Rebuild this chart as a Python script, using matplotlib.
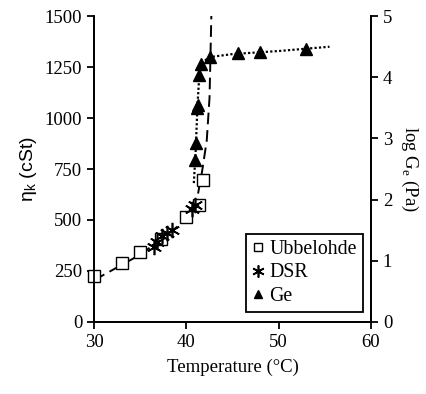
"""Kinematic viscosity and log Ge vs temperature (Ubbelohde, DSR, Ge)."""

import matplotlib as mpl
import matplotlib.pyplot as plt

mpl.rcParams.update(
    {
        "font.family": "Liberation Serif",
        "font.size": 13.5,
        "axes.linewidth": 1.3,
        "xtick.major.width": 1.3,
        "ytick.major.width": 1.3,
        "xtick.major.size": 5,
        "ytick.major.size": 5,
    }
)

# Ubbelohde viscosity (cSt)
ubb_t = [30.0, 33.0, 35.0, 37.2, 39.9, 41.4, 41.8]
ubb_v = [225, 288, 345, 405, 517, 575, 695]

# DSR viscosity (cSt)
dsr_t = [36.5, 36.8, 37.4, 37.9, 38.4, 40.6, 40.9]
dsr_v = [368, 392, 422, 438, 450, 556, 572]

# Ge, log scale (Pa)
ge_t = [40.9, 41.0, 41.1, 41.2, 41.4, 41.6, 42.6, 45.6, 48.0, 52.9]
ge_log = [2.65, 2.92, 3.50, 3.55, 4.04, 4.22, 4.33, 4.39, 4.41, 4.46]

# dashed viscosity trend
visc_fit_t = [30.0, 33.0, 35.0, 38.0, 40.0, 41.0, 41.3, 41.7, 42.2, 42.5, 42.6, 42.7]
visc_fit_v = [205, 280, 330, 430, 505, 560, 640, 740, 890, 1100, 1300, 1510]

# dotted Ge trend
ge_fit_t = [40.8, 41.0, 41.2, 41.4, 41.7, 42.5, 45.0, 50.0, 55.5]
ge_fit_log = [2.27, 2.8, 3.55, 4.05, 4.24, 4.33, 4.38, 4.43, 4.50]

fig = plt.figure(figsize=(4.26, 3.94), dpi=100)
ax = fig.add_axes([0.221, 0.183, 0.650, 0.776])
ax2 = ax.twinx()

ax.plot(visc_fit_t, visc_fit_v, color="black", ls=(0, (6, 3)), lw=1.4, zorder=2)
sq = ax.plot(ubb_t, ubb_v, ls="none", marker="s", ms=8, mfc="white",
             mec="black", mew=1.0, label="Ubbelohde", zorder=3, clip_on=False)[0]
st = ax.plot(dsr_t, dsr_v, ls="none", marker=(6, 2, 0), ms=11, color="black",
             mew=1.2, label="DSR", zorder=4)[0]

ax2.plot(ge_fit_t, ge_fit_log, color="black", ls=(0, (1, 1)), lw=1.6)
tr = ax2.plot(ge_t, ge_log, ls="none", marker="^", ms=8, color="black",
              label="Ge")[0]

ax.set_xlim(30, 60)
ax.set_ylim(0, 1500)
ax2.set_ylim(0, 5)
ax.set_xticks([30, 40, 50, 60])
ax.set_yticks([0, 250, 500, 750, 1000, 1250, 1500])
ax2.set_yticks([0, 1, 2, 3, 4, 5])
ax.tick_params(direction="out", length=5)
ax2.tick_params(direction="out", length=5)
for a in (ax, ax2):
    a.spines["top"].set_visible(False)

ax.set_xlabel("Temperature (°C)", labelpad=6)
ax.set_ylabel(r"η$_\mathregular{k}$ (cSt)", family="Liberation Sans",
              fontsize=14, labelpad=4)
ax2.set_ylabel(r"log G$_\mathregular{e}$ (Pa)", rotation=270, labelpad=20)

leg = ax2.legend(handles=[sq, st, tr], loc="lower right",
                 bbox_to_anchor=(0.971, 0.033), borderaxespad=0,
                 fancybox=False, edgecolor="black",
                 framealpha=1, handlelength=0.6, handletextpad=0.3,
                 borderpad=0.3, labelspacing=0.22, markerscale=0.8,
                 fontsize=14.3)
leg.get_frame().set_linewidth(1.3)

fig.savefig("out.png", dpi=100)
